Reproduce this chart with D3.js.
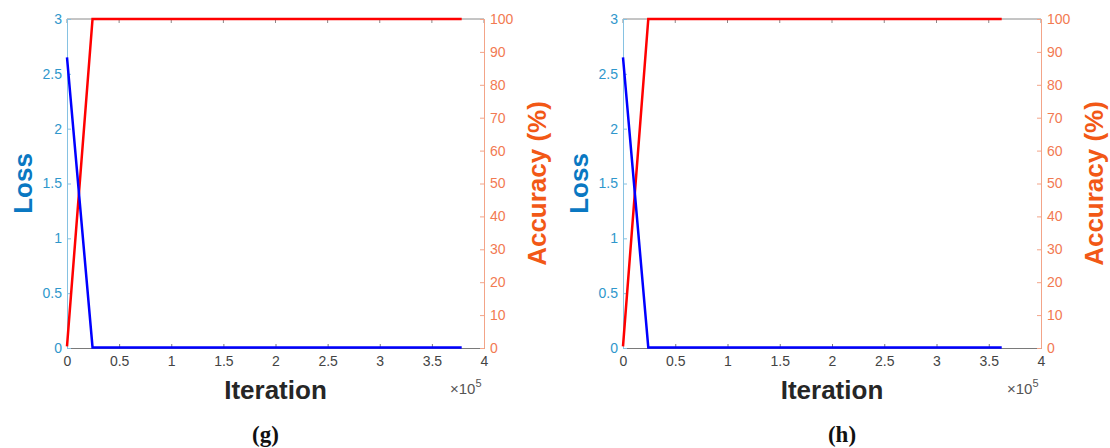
<!DOCTYPE html>
<html>
<head>
<meta charset="utf-8">
<script src="https://cdn.jsdelivr.net/npm/d3@7/dist/d3.min.js"></script>
<style>
  body { margin: 0; background: #fff; }
  svg { display: block; font-family: "Liberation Sans", Arial, sans-serif; }
</style>
</head>
<body>
<svg id="chart" width="1110" height="448"></svg>
<script>
////////////////////////////
//  data
////////////////////////////
var xTicks = [0, 0.5, 1, 1.5, 2, 2.5, 3, 3.5, 4];
var lossTicks = [0, 0.5, 1, 1.5, 2, 2.5, 3];
var accTicks = [0, 10, 20, 30, 40, 50, 60, 70, 80, 90, 100];

// panel (g)
var iterG = [0, 0.245, 3.786];        // x10^5
var lossG = [2.65, 0.005, 0.005];
var accG = [0.5, 100, 100];

// panel (h)
var iterH = [0, 0.242, 3.624];
var lossH = [2.65, 0.005, 0.005];
var accH = [0.5, 100, 100];

var panels = [
  { caption: '(g)', iter: iterG, loss: lossG, acc: accG, left: 67, right: 484, capShift: -10 },
  { caption: '(h)', iter: iterH, loss: lossH, acc: accH, left: 623, right: 1041, capShift: 10 }
];

///////////////////
// globals
//////////////////
var top_ = 19, bottom = 348, tick = 4;
var blueText = '#2f97cc', blueLine = '#86c2e2', blueLabel = '#0a78c2';
var orText = '#f27a52', orLine = '#f3a488', orLabel = '#f25816';
var fmt = d => String(d);

var svg = d3.select('#chart');

panels.forEach(function(p) {
  var x = d3.scaleLinear().domain([0, 4]).range([p.left, p.right]);
  var yL = d3.scaleLinear().domain([0, 3]).range([bottom, top_]);
  var yR = d3.scaleLinear().domain([0, 100]).range([bottom, top_]);

  var g = svg.append('g');

  // top border
  g.append('line')
    .attr('x1', p.left).attr('x2', p.right)
    .attr('y1', top_).attr('y2', top_)
    .attr('stroke', '#8a8a8a').attr('stroke-width', 1);

  // bottom axis
  var xb = g.append('g').attr('transform', `translate(0,${bottom})`)
    .call(d3.axisBottom(x).tickValues(xTicks).tickSize(-tick).tickPadding(8).tickFormat(fmt));
  xb.select('.domain').attr('stroke', '#7a7a7a');
  xb.selectAll('.tick line').attr('stroke', '#7a7a7a');
  xb.selectAll('.tick text').attr('fill', '#444').attr('font-size', 14);

  // top ticks
  g.selectAll('.ttick').data(xTicks).enter().append('line')
    .attr('x1', d => x(d)).attr('x2', d => x(d))
    .attr('y1', top_).attr('y2', top_ + tick)
    .attr('stroke', '#8a8a8a');

  // left axis
  var yl = g.append('g').attr('transform', `translate(${p.left},0)`)
    .call(d3.axisLeft(yL).tickValues(lossTicks).tickSize(-tick).tickPadding(5).tickFormat(fmt));
  yl.select('.domain').attr('stroke', blueLine);
  yl.selectAll('.tick line').attr('stroke', blueLine);
  yl.selectAll('.tick text').attr('fill', blueText).attr('font-size', 14);

  // right axis
  var yr = g.append('g').attr('transform', `translate(${p.right},0)`)
    .call(d3.axisRight(yR).tickValues(accTicks).tickSize(-tick).tickPadding(6).tickFormat(fmt));
  yr.select('.domain').attr('stroke', orLine);
  yr.selectAll('.tick line').attr('stroke', orLine);
  yr.selectAll('.tick text').attr('fill', orText).attr('font-size', 14);

  // lines
  var lossLine = d3.line().x((d, i) => x(p.iter[i])).y(d => yL(d));
  var accLine = d3.line().x((d, i) => x(p.iter[i])).y(d => yR(d));

  g.append('path').datum(p.acc)
    .attr('d', accLine).attr('fill', 'none')
    .attr('stroke', '#ff0000').attr('stroke-width', 2.5);
  g.append('path').datum(p.loss)
    .attr('d', lossLine).attr('fill', 'none')
    .attr('stroke', '#0000ff').attr('stroke-width', 2.5);

  var cx = (p.left + p.right) / 2, cy = (top_ + bottom) / 2;

  // axis labels
  g.append('text')
    .attr('transform', `translate(${p.left - 44},${cy}) rotate(-90)`)
    .attr('text-anchor', 'middle').attr('dy', '0.35em')
    .attr('font-size', 26).attr('font-weight', 'bold').attr('fill', blueLabel)
    .text('Loss');
  g.append('text')
    .attr('transform', `translate(${p.right + 53},${cy}) rotate(-90)`)
    .attr('text-anchor', 'middle').attr('dy', '0.35em')
    .attr('font-size', 26).attr('font-weight', 'bold').attr('fill', orLabel)
    .text('Accuracy (%)');
  g.append('text')
    .attr('x', cx).attr('y', 399)
    .attr('text-anchor', 'middle')
    .attr('font-size', 26).attr('font-weight', 'bold').attr('fill', '#262626')
    .text('Iteration');

  // exponent
  var ex = g.append('text')
    .attr('x', p.right - 34).attr('y', 394)
    .attr('font-size', 15).attr('fill', '#555');
  ex.append('tspan').text('\u00d710');
  ex.append('tspan').attr('font-size', 11).attr('dy', -7).text('5');

  // caption
  g.append('text')
    .attr('x', cx + p.capShift).attr('y', 442)
    .attr('text-anchor', 'middle')
    .attr('font-family', '"Liberation Serif", "DejaVu Serif", serif')
    .attr('font-size', 23).attr('font-weight', 'bold').attr('fill', '#111')
    .text(p.caption);
});
</script>
</body>
</html>
